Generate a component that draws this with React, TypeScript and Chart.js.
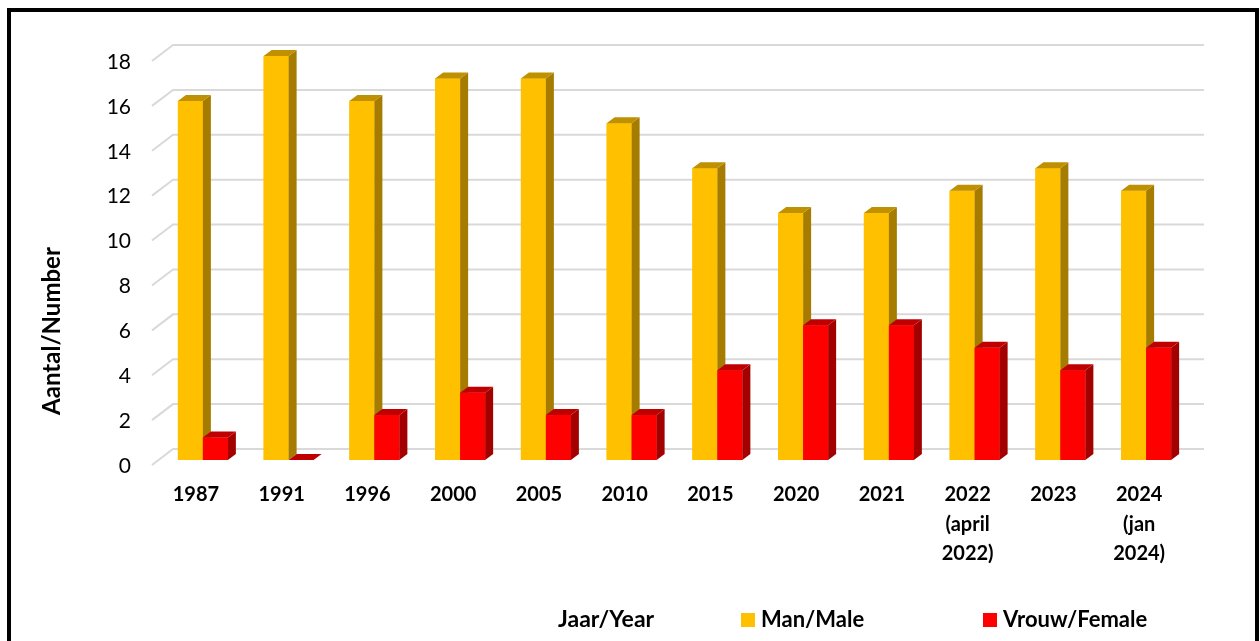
import React, { useEffect, useRef } from "react";
import { Chart, registerables } from "chart.js";

Chart.register(...registerables);

const categories: (string | string[])[] = [
  "1987", "1991", "1996", "2000", "2005", "2010", "2015", "2020", "2021",
  ["2022", "(april", "2022)"], "2023", ["2024", "(jan", "2024)"],
];
const maleValues = [16, 18, 16, 17, 17, 15, 13, 11, 11, 12, 13, 12];
const femaleValues = [1, 0, 2, 3, 2, 2, 4, 6, 6, 5, 4, 5];
const yTickValues = [0, 2, 4, 6, 8, 10, 12, 14, 16, 18];
const seriesLabels = ["Man/Male", "Vrouw/Female"];
const yTitle = "Aantal/Number";
const xTitle = "Jaar/Year";

const FONT = "Lato";
const frontColors = ["#FFC000", "#FF0000"];
const sideColors = ["#A67C00", "#A30000"];
const topColors = ["#BF9000", "#C00000"];

const gridPlugin = {
  id: "grid3d",
  beforeDatasetsDraw(chart: any) {
    const { ctx, chartArea } = chart;
    const ys = chart.scales.y;
    ctx.save();
    ctx.strokeStyle = "#D9D9D9";
    ctx.lineWidth = 2;
    yTickValues.forEach((v) => {
      const p = ys.getPixelForValue(v);
      ctx.beginPath();
      ctx.moveTo(chartArea.left - 8, p + 5);
      ctx.lineTo(chartArea.left + 13, p - 11);
      ctx.lineTo(chartArea.right + 15, p - 11);
      ctx.stroke();
    });
    ctx.restore();
  },
};

const barsPlugin = {
  id: "bars3d",
  afterDatasetsDraw(chart: any) {
    const ctx = chart.ctx;
    const dx = 8;
    const dy = -6;
    ctx.save();
    chart.data.datasets.forEach((_ds: any, i: number) => {
      const meta = chart.getDatasetMeta(i);
      meta.data.forEach((bar: any) => {
        const { x, y, base, width } = bar.getProps(["x", "y", "base", "width"], true);
        const l = x - width / 2;
        const r = x + width / 2;
        ctx.fillStyle = frontColors[i];
        ctx.fillRect(l, y, r - l, base - y);
        ctx.fillStyle = sideColors[i];
        ctx.beginPath();
        ctx.moveTo(r, y);
        ctx.lineTo(r + dx, y + dy);
        ctx.lineTo(r + dx, base + dy);
        ctx.lineTo(r, base);
        ctx.closePath();
        ctx.fill();
        ctx.fillStyle = topColors[i];
        ctx.beginPath();
        ctx.moveTo(l, y);
        ctx.lineTo(r, y);
        ctx.lineTo(r + dx, y + dy);
        ctx.lineTo(l + dx, y + dy);
        ctx.closePath();
        ctx.fill();
      });
    });
    ctx.restore();
  },
};

const textPlugin = {
  id: "texts",
  afterDraw(chart: any) {
    const ctx = chart.ctx;
    ctx.save();
    ctx.fillStyle = "#000";
    // y title
    ctx.font = `bold 24px ${FONT}`;
    ctx.translate(52, 331);
    ctx.rotate(-Math.PI / 2);
    ctx.textAlign = "center";
    ctx.textBaseline = "middle";
    ctx.fillText(yTitle, 0, 0);
    ctx.setTransform(1, 0, 0, 1, 0, 0);
    // legend row
    const cy = 620;
    ctx.textAlign = "left";
    ctx.textBaseline = "middle";
    ctx.font = `bold 23px ${FONT}`;
    ctx.fillText(xTitle, 558, cy);
    ctx.font = `bold 22px ${FONT}`;
    const legendX = [741, 983];
    seriesLabels.forEach((lab, i) => {
      ctx.fillStyle = frontColors[i];
      ctx.fillRect(legendX[i], cy - 7, 14, 14);
      ctx.fillStyle = "#000";
      ctx.fillText(lab, legendX[i] + 20, cy);
    });
    ctx.restore();
  },
};

export default function App() {
  const ref = useRef<HTMLCanvasElement>(null);
  useEffect(() => {
    if (!ref.current) return;
    const chart = new Chart(ref.current, {
      type: "bar",
      data: {
        labels: categories as any,
        datasets: [
          { label: seriesLabels[0], data: maleValues, backgroundColor: frontColors[0], borderWidth: 0 },
          { label: seriesLabels[1], data: femaleValues, backgroundColor: frontColors[1], borderWidth: 0 },
        ],
      },
      options: {
        responsive: false,
        maintainAspectRatio: false,
        devicePixelRatio: 1,
        animation: false,
        layout: { padding: { left: 0, top: 56, right: 71, bottom: 0 } },
        datasets: { bar: { categoryPercentage: 0.583, barPercentage: 1 } },
        plugins: { legend: { display: false }, tooltip: { enabled: false } },
        scales: {
          x: {
            grid: { display: false, drawTicks: false },
            border: { display: false },
            ticks: {
              color: "#000",
              font: { family: FONT, size: 20, weight: "bold", lineHeight: 1.47 },
              padding: 20,
              labelOffset: -7,
              maxRotation: 0,
              autoSkip: false,
            },
            afterFit(scale: any) {
              scale.height = 181;
            },
          },
          y: {
            min: 0,
            max: 18,
            grid: { display: false, drawTicks: false },
            border: { display: false },
            ticks: {
              stepSize: 2,
              color: "#000",
              font: { family: FONT, size: 21 },
              padding: 29,
              labelOffset: 6,
            },
            afterFit(scale: any) {
              scale.width = 160;
            },
          },
        },
      },
      plugins: [gridPlugin, barsPlugin, textPlugin],
    });
    return () => chart.destroy();
  }, []);

  return (
    <>
      <canvas
        ref={ref}
        width={1260}
        height={641}
        style={{ position: "fixed", left: 0, top: 0, width: 1260, height: 641 }}
      />
      <div
        style={{
          position: "fixed",
          left: 7,
          top: 8,
          width: 1252,
          height: 700,
          border: "4px solid #000",
          boxSizing: "border-box",
          pointerEvents: "none",
        }}
      />
    </>
  );
}
